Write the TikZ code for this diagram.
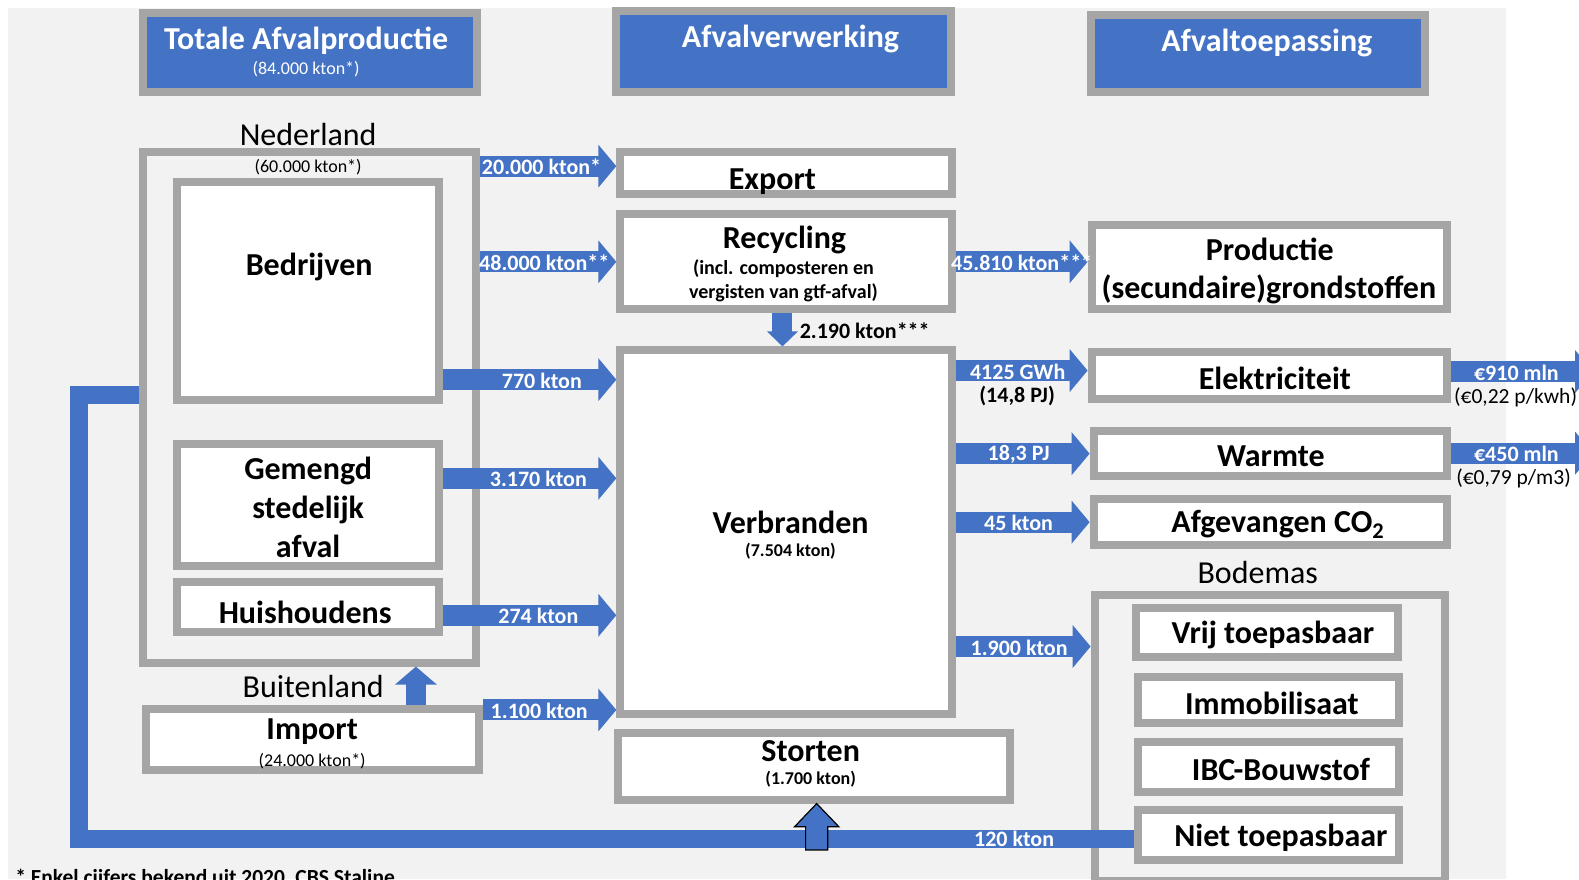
\documentclass[tikz,border=0pt]{standalone}
\usepackage{fontspec}
\setmainfont{Carlito}
\usetikzlibrary{arrows.meta}
\definecolor{flowblue}{HTML}{4472C4}
\definecolor{framegray}{HTML}{A5A5A5}
\definecolor{bggray}{HTML}{F2F2F2}
\newcommand{\fsz}[2]{\fontsize{#1}{#2}\selectfont}
\begin{document}
\begin{tikzpicture}
[x=1.007pt,y=-1.007pt,
box/.style = {draw=framegray, line width=8pt, fill=white, inner sep=0pt},
head/.style = {box, fill=flowblue},
sz/.style 2 args = {minimum width=1.007*#1pt, minimum height=1.007*#2pt},
title/.style = {font=\bfseries\fsz{32}{38.8}, inner sep=0pt, align=center, yshift=-2pt},
sub/.style = {font=\bfseries\fsz{20}{23}, inner sep=0pt},
subsmall/.style = {font=\bfseries\fsz{18}{21}, inner sep=0pt},
small/.style = {font=\fsz{18}{21}, inner sep=0pt, yshift=-2pt},
region/.style = {font=\fsz{32}{38}, inner sep=0pt},
note/.style = {font=\bfseries\fsz{22}{25}, inner sep=0pt},
price/.style = {font=\fsz{21.5}{25}, inner sep=0pt},
flow/.style = {flowblue, line width=21pt, -{Triangle[width=42pt,length=18pt]}},
flowsmall/.style = {flowblue, line width=20pt, -{Triangle[width=30pt,length=15pt]}},
flowtext/.style = {white, font=\bfseries\fsz{22}{25}, inner sep=0pt, yshift=-1pt},
loopline/.style = {flowblue, line width=18pt},
]
\useasboundingbox (0,0) rectangle (1568,873);
\clip (0,0) rectangle (1568,873);
\fill[bggray] (8,8) rectangle (1495,873);
% headers
\node[head, sz={332}{78}] (hprod) at (308,52) {};
\node[head, sz={332}{80}] (hverw) at (778,51) {};
\node[head, sz={332}{76}] (htoep) at (1249,53) {};
\node[title, white] at (304,38) {Totale Afvalproductie};
\node[small, white] at (304,67) {(84.000 kton*)};
\node[title, white] at (785,37) {Afvalverwerking};
\node[title, white] at (1258,41) {Afvaltoepassing};
% Nederland / Buitenland
\node[region] at (306,134) {Nederland};
\node[box, fill=bggray, sz={331}{507}] (ned) at (307.5,404.5) {};
\node[small] at (306,164) {(60.000 kton*)};
\node[box, sz={260}{216}] (bedr) at (306,289) {};
\node[title] at (307,263) {Bedrijven};
\node[box, sz={260}{121}] (gsa) at (306,501.5) {};
\node[title] at (306,502) {Gemengd\\stedelijk\\afval};
\node[box, sz={260}{50}] (huis) at (306,603) {};
\node[title] at (303,606) {Huishoudens};
\node[region] at (311,682) {Buitenland};
\node[box, sz={331}{61}] (imp) at (310.5,734.5) {};
\node[title] at (310,725) {Import};
\node[small] at (310,754) {(24.000 kton*)};
% verwerking
\node[box, sz={329}{42}] (exp) at (780.5,172) {};
\node[title] at (767,178) {Export};
\node[box, sz={329}{94}] (rec) at (780.5,260) {};
\node[title] at (779,236) {Recycling};
\node[sub] at (778,267) {(incl. composteren en};
\node[sub] at (778,291) {vergisten van gtf-afval)};
\node[box, sz={329}{361}] (verb) at (780.5,528.5) {};
\node[title] at (785,517) {Verbranden};
\node[subsmall] at (785,547) {(7.504 kton)};
\node[box, sz={389}{66}] (stort) at (808.5,761) {};
\node[title] at (805,744) {Storten};
\node[subsmall] at (805,774) {(1.700 kton)};
% toepassing
\node[box, sz={353}{84}] (prod) at (1260.5,265) {};
\node[title] at (1261,246) {Productie};
\node[title] at (1260,285) {(secundaire)grondstoffen};
\node[box, sz={353}{46}] (elek) at (1260.5,373) {};
\node[title] at (1266,374) {Elektriciteit};
\node[box, sz={351}{45}] (warm) at (1261.5,450.5) {};
\node[title] at (1262,451) {Warmte};
\node[box, sz={351}{45}] (co2) at (1261.5,518.5) {};
\node[title] at (1269,519) {Afgevangen CO\textsubscript{2}};
\node[region] at (1249,569) {Bodemas};
\node[box, fill=bggray, sz={348}{284}] (bodem) at (1261,733) {};
\node[box, sz={260}{48}] (vrij) at (1258,628) {};
\node[title] at (1264,629) {Vrij toepasbaar};
\node[box, sz={259}{46}] (immo) at (1259.5,695) {};
\node[title] at (1263,696) {Immobilisaat};
\node[box, sz={259}{49}] (ibc) at (1259.5,761.5) {};
\node[title] at (1272,762) {IBC-Bouwstof};
\node[box, sz={259}{50}] (niet) at (1259.5,829) {};
\node[title] at (1272,830) {Niet toepasbaar};
% stromen
\draw[flow] (ned.east |- 0,165) -- node[flowtext, pos=0.45] {20.000 kton*} (exp.west |- 0,165);
\draw[flow] (ned.east |- rec.west) -- node[flowtext, pos=0.47] {48.000 kton**} (rec.west);
\draw[flow] (bedr.east |- 0,377) -- node[flowtext, pos=0.57] {770 kton} (verb.west |- 0,377);
\draw[flow] (gsa.east |- 0,475) -- node[flowtext, pos=0.55] {3.170 kton} (verb.west |- 0,475);
\draw[flow] (huis.east |- 0,611) -- node[flowtext, pos=0.55] {274 kton} (verb.west |- 0,611);
\draw[flow] (imp.east |- 0,705) -- node[flowtext, pos=0.42] {1.100 kton} (verb.west |- 0,705);
\draw[flowsmall] (rec.south -| 777,0) -- (verb.north -| 777,0);
\node[note, anchor=west] at (794,328) {2.190 kton***};
\draw[flow] (rec.east) -- node[flowtext, pos=0.5] {45.810 kton***} (prod.west |- rec.east);
\draw[flow] (verb.east |- 0,368) -- node[flowtext, pos=0.47] {4125 GWh} (elek.west |- 0,368);
\node[note] at (1010,393) {(14,8 PJ)};
\draw[flow] (verb.east |- warm.west) -- node[flowtext, pos=0.47] {18,3 PJ} (warm.west);
\draw[flow] (verb.east |- co2.west) -- node[flowtext, pos=0.47] {45 kton} (co2.west);
\draw[flow] (verb.east |- 0,642) -- node[flowtext, pos=0.47] {1.900 kton} (bodem.west |- 0,642);
\coordinate (elout) at (1582,369);
\coordinate (waout) at (1582,450);
\draw[flow] (elek.east |- elout) -- node[flowtext, pos=0.46] {€910 mln} (elout);
\node[price] at (1505,395) {(€0,22 p/kwh)};
\draw[flow] (warm.east |- waout) -- node[flowtext, pos=0.46] {€450 mln} (waout);
\node[price] at (1503,475) {(€0,79 p/m3)};
\draw[flow, -{Triangle[width=41pt,length=18pt]}, line width=20pt] (imp.north -| 413,0) -- (ned.south -| 413,0);
% terugvoer bodemas
\coordinate (lpcorner) at (78,833);
\draw[loopline] (niet.west |- lpcorner) -- (lpcorner) |- (ned.west |- 0,392);
\node[flowtext] at (1007,832) {120 kton};
\draw[draw=black, fill=flowblue, line width=1.2pt] (stort.south -| 811,0) -- ++(22,23) -- ++(-11,0) -- ++(0,23) -- ++(-22,0) -- ++(0,-23) -- ++(-11,0) -- cycle;
\node[font=\bfseries\fsz{21.5}{25}, inner sep=0pt, anchor=base west] at (15,878) {* Enkel cijfers bekend uit 2020, CBS Staline};
\end{tikzpicture}
\end{document}
